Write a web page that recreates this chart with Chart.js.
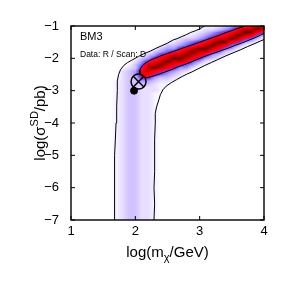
<!DOCTYPE html>
<html>
<head>
<meta charset="utf-8">
<script src="https://cdn.jsdelivr.net/npm/chart.js@4.4.1/dist/chart.umd.min.js"></script>
<style>
html, body { margin: 0; padding: 0; background: #fff; }
</style>
</head>
<body>
<canvas id="likeMap" width="291" height="291"></canvas>
<script>
// axis ticks
const massTicks = [1, 2, 3, 4];
const sigmaTicks = [-7, -6, -5, -4, -3, -2, -1];

// profile likelihood. rows: log(sigma) -1.0 .. -7.0 (step 0.1)
// columns: log(m) 1.0 .. 4.0 (step 0.1). level 0 = nothing, 9 = peak
const gridTop = -1.0, gridLeft = 1.0, gridStep = 0.1;
const bandRow = "0000000123 3221000000 00000000000";
const likeRows = [
    "0000000000 0000000000 01123456788",
    "0000000000 0000000000 12234578898",
    "0000000000 0000000001 23456789976",
    "0000000000 0000000112 34567898753",
    "0000000000 0000001233 45788986531",
    "0000000000 0000012345 67899764310",
    "0000000000 0000133456 78987542000",
    "0000000000 0001344678 99875420000",
    "0000000000 0013456789 88653200000",
    "0000000000 0134678898 76432000000",
    "0000000000 1346789987 64320000000",
    "0000000000 2467898875 42100000000",
    "0000000001 3588987654 21000000000",
    "0000000012 3689876442 00000000000",
    "0000000023 4787654320 00000000000",
    "0000000023 4776543200 00000000000",
    "0000000023 3664332100 00000000000",
    "0000000123 3443221000 00000000000",
    "0000000123 3332110000 00000000000",
    "0000000123 3222100000 00000000000",
    "0000000123 3222100000 00000000000",
    bandRow, bandRow, bandRow, bandRow, bandRow, bandRow, bandRow, bandRow, bandRow, bandRow,
    bandRow, bandRow, bandRow, bandRow, bandRow, bandRow, bandRow, bandRow, bandRow, bandRow,
    bandRow, bandRow, bandRow, bandRow, bandRow, bandRow, bandRow, bandRow, bandRow, bandRow,
    bandRow, bandRow, bandRow, bandRow, bandRow, bandRow, bandRow, bandRow, bandRow, bandRow
];

// contours (outer = 95%, inner = 68%)
const outerLeftX = [1.67, 1.68, 1.67, 1.68, 1.68, 1.69, 1.70, 1.71, 1.72, 1.72, 1.74, 1.77, 1.82, 1.88, 1.96, 2.05, 2.13, 2.23, 2.32, 2.40, 2.50, 2.59, 2.65, 2.72, 2.80, 2.86, 2.93, 2.99, 3.04, 3.08];
const outerLeftY = [-7.0, -6.5, -6.0, -5.5, -5.0, -4.5, -4.0, -3.5, -3.0, -2.7, -2.5, -2.35, -2.22, -2.13, -2.04, -1.94, -1.86, -1.78, -1.69, -1.62, -1.53, -1.43, -1.39, -1.33, -1.26, -1.20, -1.15, -1.10, -1.04, -1.0];
const outerRightX = [2.29, 2.30, 2.29, 2.30, 2.30, 2.30, 2.31, 2.31, 2.33, 2.36, 2.39, 2.43, 2.48, 2.56, 2.64, 2.73, 2.80, 2.88, 2.97, 3.07, 3.18, 3.28, 3.40, 3.52, 3.63, 3.74, 3.86, 3.95, 4.0];
const outerRightY = [-7.0, -6.5, -6.0, -5.5, -5.0, -4.5, -4.0, -3.7, -3.5, -3.32, -3.12, -2.97, -2.86, -2.75, -2.66, -2.56, -2.49, -2.42, -2.33, -2.23, -2.13, -2.04, -1.93, -1.83, -1.74, -1.64, -1.54, -1.46, -1.42];
const innerX = [3.71, 3.60, 3.50, 3.40, 3.30, 3.20, 3.10, 3.00, 2.90, 2.80, 2.70, 2.60, 2.50, 2.40, 2.30, 2.22, 2.15, 2.10, 2.07, 2.07, 2.11, 2.18, 2.26, 2.35, 2.45, 2.55, 2.65, 2.75, 2.85, 2.95, 3.05, 3.15, 3.25, 3.35, 3.45, 3.55, 3.65, 3.75, 3.85, 3.95, 4.0];
const innerY = [-1.0, -1.07, -1.14, -1.21, -1.29, -1.36, -1.43, -1.50, -1.57, -1.64, -1.71, -1.78, -1.85, -1.92, -2.00, -2.07, -2.16, -2.25, -2.36, -2.46, -2.56, -2.60, -2.56, -2.50, -2.43, -2.36, -2.27, -2.20, -2.13, -2.04, -1.96, -1.89, -1.82, -1.75, -1.68, -1.60, -1.53, -1.45, -1.37, -1.28, -1.23];

// benchmark point and best fit
const benchPoint = { x: 2.05, y: -2.72 };
const bestFit = { x: 1.98, y: -3.0 };

// white -> lavender -> blue -> red -> dark red
const levelColors = [
    [255, 255, 255], [246, 243, 255], [232, 222, 255], [210, 194, 255], [172, 156, 255],
    [110, 96, 245], [205, 20, 110], [255, 0, 10], [205, 0, 0], [115, 0, 0]
];

const grid = likeRows.map(r => r.replace(/ /g, "").split("").map(Number));
const toPts = (xs, ys) => xs.map((x, i) => ({ x: x, y: ys[i] }));

function levelAt(xv, yv) {
    const fc = (xv - gridLeft) / gridStep, fr = (gridTop - yv) / gridStep;
    const nr = grid.length, nc = grid[0].length;
    const c0 = Math.max(0, Math.min(nc - 1, Math.floor(fc))), r0 = Math.max(0, Math.min(nr - 1, Math.floor(fr)));
    const c1 = Math.min(nc - 1, c0 + 1), r1 = Math.min(nr - 1, r0 + 1);
    const tc = Math.max(0, Math.min(1, fc - c0)), tr = Math.max(0, Math.min(1, fr - r0));
    const top = grid[r0][c0] * (1 - tc) + grid[r0][c1] * tc;
    const bot = grid[r1][c0] * (1 - tc) + grid[r1][c1] * tc;
    return top * (1 - tr) + bot * tr;
}

function colorFor(v) {
    const i = Math.min(8, Math.floor(v)), f = v - i;
    const a = levelColors[i], b = levelColors[i + 1];
    return [a[0] + (b[0] - a[0]) * f, a[1] + (b[1] - a[1]) * f, a[2] + (b[2] - a[2]) * f];
}

const heatmap = {
    id: "heatmap",
    beforeDatasetsDraw(chart) {
        const { ctx, chartArea: a, scales: { x, y } } = chart;
        const w = Math.round(a.right - a.left), h = Math.round(a.bottom - a.top);
        const off = document.createElement("canvas");
        off.width = w; off.height = h;
        const octx = off.getContext("2d");
        const img = octx.createImageData(w, h);
        for (let j = 0; j < h; j++) {
            const yv = y.getValueForPixel(a.top + j + 0.5);
            for (let i = 0; i < w; i++) {
                const xv = x.getValueForPixel(a.left + i + 0.5);
                const c = colorFor(levelAt(xv, yv));
                const k = (j * w + i) * 4;
                img.data[k] = c[0]; img.data[k + 1] = c[1]; img.data[k + 2] = c[2]; img.data[k + 3] = 255;
            }
        }
        octx.putImageData(img, 0, 0);
        ctx.drawImage(off, a.left, a.top);
    }
};

const FONT = "'Liberation Sans', Arial, Helvetica, sans-serif";

const frame = {
    id: "frame",
    afterDatasetsDraw(chart) {
        const { ctx, chartArea: a, scales: { x, y } } = chart;
        ctx.save();
        ctx.strokeStyle = "#000";
        ctx.lineWidth = 1.4;
        ctx.strokeRect(a.left, a.top, a.right - a.left, a.bottom - a.top);
        ctx.lineWidth = 1;
        ctx.beginPath();
        massTicks.forEach(v => {
            const px = x.getPixelForValue(v);
            ctx.moveTo(px, a.bottom); ctx.lineTo(px, a.bottom - 4);
            ctx.moveTo(px, a.top); ctx.lineTo(px, a.top + 4);
        });
        sigmaTicks.forEach(v => {
            const py = y.getPixelForValue(v);
            ctx.moveTo(a.left, py); ctx.lineTo(a.left + 4, py);
            ctx.moveTo(a.right, py); ctx.lineTo(a.right - 4, py);
        });
        ctx.stroke();

        ctx.fillStyle = "#000";
        ctx.textBaseline = "middle";
        ctx.textAlign = "left";
        ctx.font = "11px " + FONT;
        ctx.fillText("BM3", a.left + 9, a.top + 11);
        ctx.font = "8.5px " + FONT;
        ctx.fillText("Data: R / Scan: D", a.left + 9, a.top + 29);

        // x title: log(m_chi/GeV)
        ctx.textBaseline = "alphabetic";
        const big = "15px " + FONT, small = "11px " + FONT;
        ctx.font = big;
        const p1 = "log(m", p3 = "/GeV)";
        const w1 = ctx.measureText(p1).width, w3 = ctx.measureText(p3).width;
        ctx.font = small;
        const w2 = ctx.measureText("\u03c7").width;
        let sx = (a.left + a.right) / 2 - (w1 + w2 + w3) / 2;
        const base = 257;
        ctx.font = big; ctx.fillText(p1, sx, base); sx += w1;
        ctx.font = small; ctx.fillText("\u03c7", sx, base + 4); sx += w2;
        ctx.font = big; ctx.fillText(p3, sx, base);

        // y title: log(sigma^SD/pb)
        ctx.translate(45, (a.top + a.bottom) / 2);
        ctx.rotate(-Math.PI / 2);
        ctx.font = big;
        const q1 = "log(\u03c3", q3 = "/pb)";
        const v1 = ctx.measureText(q1).width, v3 = ctx.measureText(q3).width;
        ctx.font = small;
        const v2 = ctx.measureText("SD").width;
        let sy = -(v1 + v2 + v3) / 2;
        ctx.font = big; ctx.fillText(q1, sy, 0); sy += v1;
        ctx.font = small; ctx.fillText("SD", sy, -7); sy += v2;
        ctx.font = big; ctx.fillText(q3, sy, 0);
        ctx.restore();
    }
};

const lineSet = (pts) => ({
    data: pts, showLine: true, borderColor: "#000", borderWidth: 1,
    pointRadius: 0, fill: false, tension: 0
});

new Chart(document.getElementById("likeMap"), {
    type: "scatter",
    data: {
        datasets: [
            { data: [bestFit], pointStyle: "circle", pointRadius: 3.5, backgroundColor: "#000", borderColor: "#000", borderWidth: 1 },
            { data: [benchPoint], pointStyle: "crossRot", pointRadius: 7.5, borderColor: "#000", borderWidth: 1.5 },
            { data: [benchPoint], pointStyle: "circle", pointRadius: 7.5, backgroundColor: "rgba(0,0,0,0)", borderColor: "#000", borderWidth: 1.5 },
            lineSet(toPts(innerX, innerY)),
            lineSet(toPts(outerLeftX, outerLeftY)),
            lineSet(toPts(outerRightX, outerRightY))
        ]
    },
    options: {
        responsive: false,
        animation: false,
        devicePixelRatio: 1,
        layout: { padding: { top: 26, right: 27, left: 0, bottom: 0 } },
        plugins: { legend: { display: false }, tooltip: { enabled: false } },
        scales: {
            x: {
                type: "linear", min: 1, max: 4,
                afterBuildTicks: s => { s.ticks = massTicks.map(v => ({ value: v })); },
                afterFit: s => { s.height = 71; },
                ticks: { color: "#000", padding: -4, maxRotation: 0, font: { family: FONT, size: 13 } },
                grid: { display: false }, border: { display: false }
            },
            y: {
                type: "linear", min: -7, max: -1,
                afterBuildTicks: s => { s.ticks = sigmaTicks.map(v => ({ value: v })); },
                afterFit: s => { s.width = 71; },
                ticks: {
                    color: "#000", padding: 4, font: { family: FONT, size: 13 },
                    callback: v => (v < 0 ? "\u2212" + Math.abs(v) : "" + v)
                },
                grid: { display: false }, border: { display: false }
            }
        }
    },
    plugins: [heatmap, frame]
});
</script>
</body>
</html>
